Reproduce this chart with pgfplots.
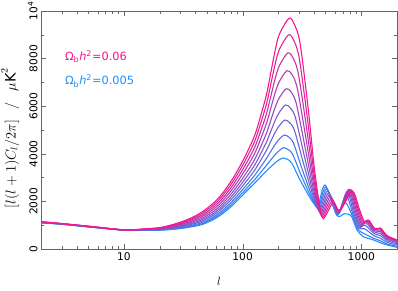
\documentclass[border=0pt]{standalone}
\usepackage{pgfplots}
\pgfplotsset{compat=1.18}
\usepackage{fontspec}
\setmainfont{DejaVu Sans}
\definecolor{bluec}{RGB}{30,144,255}
\definecolor{pinkc}{RGB}{250,20,140}
\colorlet{c0}{bluec}
\colorlet{c1}{pinkc!11!bluec}
\colorlet{c2}{pinkc!22!bluec}
\colorlet{c3}{pinkc!33!bluec}
\colorlet{c4}{pinkc!44!bluec}
\colorlet{c5}{pinkc!56!bluec}
\colorlet{c6}{pinkc!67!bluec}
\colorlet{c7}{pinkc!78!bluec}
\colorlet{c8}{pinkc!89!bluec}
\colorlet{c9}{pinkc}
\begin{document}
\begin{tikzpicture}
\path[use as bounding box] (0,0) rectangle (398bp,291bp);
\begin{axis}[
  at={(41bp,42bp)}, anchor=south west,
  width=356bp, height=238bp, scale only axis,
  xmode=log, xmin=2, xmax=2000, ymin=0, ymax=10000,
  scaled y ticks=false,
  xtick={10,100,1000}, xticklabels={10,100,1000},
  minor xtick={3,4,5,6,7,8,9,20,30,40,50,60,70,80,90,200,300,400,500,600,700,800,900},
  ytick={0,2000,4000,6000,8000,10000},
  yticklabels={0,2000,4000,6000,8000,10\textsuperscript{4}},
  minor ytick={1000,3000,5000,7000,9000},
  tick align=inside, major tick length=5bp, minor tick length=3bp,
  axis line style={black!60}, tick style={black!60},
  /pgf/number format/assume math mode=true,
  ticklabel style={font=\fontsize{10.7}{12}\selectfont},
  yticklabel style={rotate=90, anchor=south},
  xlabel={$l$}, xlabel style={font=\fontsize{13}{15}\selectfont, yshift=-10bp},
  ylabel={$[l(l+1)C_l/2\pi]\hspace{11bp}/\hspace{11bp}\mu\mathrm{K}^2$},
  ylabel style={font=\fontsize{14.5}{16}\selectfont, yshift=2bp, xshift=-8bp},
  every axis plot/.append style={line width=1.1pt, smooth},
]
\addplot[c0] coordinates {(2,1100)(3,1040)(5,930)(10,790)(14,785)(20,790)(25,820)(30,860)(37,930)(45,1020)(55,1200)(65,1420)(80,1780)(95,2150)(110,2470)(127,2780)(145,3080)(160,3300)(175,3480)(190,3640)(205,3760)(218,3824)(240,3760)(260,3600)(305,2900)(360,2250)(400,1900)(432,1800)(495,2690)(620,1420)(720,1480)(820,1400)(920,800)(1040,520)(1270,380)(1450,260)(1650,170)(2000,70)};
\addplot[c1] coordinates {(2,1104)(3,1042)(5,932)(10,791)(14,789)(20,798)(25,834)(30,880)(37,958)(45,1058)(55,1249)(65,1479)(80,1858)(95,2247)(110,2589)(127,2927)(145,3275)(160,3537)(175,3777)(190,3991)(205,4146)(221,4256)(243.4,4170)(264.6,3968)(310.5,3115)(364.2,2341)(404.2,1907)(436.9,1742)(503.8,2608)(624.3,1442)(732.5,1950)(834.5,1433)(934.5,839)(1052.7,650)(1273,450)(1450,340)(1650,210)(2000,110)};
\addplot[c2] coordinates {(2,1108)(3,1045)(5,935)(10,792)(14,793)(20,808)(25,851)(30,904)(37,992)(45,1105)(55,1310)(65,1553)(80,1955)(95,2368)(110,2737)(127,3111)(145,3518)(160,3833)(175,4147)(190,4429)(205,4628)(224,4790)(246.8,4690)(269.4,4427)(316,3382)(368.5,2455)(408.6,1916)(441.8,1685)(512.7,2526)(628.7,1464)(745.1,2250)(849.2,1467)(949.4,878)(1065.5,850)(1277,560)(1450,450)(1650,280)(2000,170)};
\addplot[c3] coordinates {(2,1114)(3,1048)(5,938)(10,794)(14,799)(20,820)(25,871)(30,933)(37,1033)(45,1161)(55,1382)(65,1640)(80,2070)(95,2510)(110,2912)(127,3327)(145,3804)(160,4181)(175,4583)(190,4944)(205,5194)(227,5420)(250.2,5300)(274.2,4966)(321.7,3697)(372.9,2589)(412.9,1927)(446.8,1627)(521.8,2443)(633.1,1487)(757.9,2400)(864.2,1500)(964.5,917)(1078.6,1000)(1280,650)(1450,560)(1650,350)(2000,220)};
\addplot[c4] coordinates {(2,1119)(3,1051)(5,941)(10,796)(14,804)(20,832)(25,892)(30,962)(37,1074)(45,1217)(55,1453)(65,1726)(80,2184)(95,2653)(110,3086)(127,3544)(145,4089)(160,4529)(175,5018)(190,5458)(205,5760)(230,6050)(253.7,5915)(279.1,5505)(327.5,4011)(377.2,2723)(417.3,1938)(451.9,1569)(531.1,2361)(637.5,1509)(771,2470)(879.4,1533)(979.7,956)(1091.7,1100)(1283,720)(1450,650)(1650,410)(2000,270)};
\addplot[c5] coordinates {(2,1125)(3,1055)(5,945)(10,797)(14,810)(20,844)(25,914)(30,993)(37,1118)(45,1277)(55,1531)(65,1820)(80,2309)(95,2807)(110,3275)(127,3778)(145,4399)(160,4906)(175,5491)(190,6016)(205,6373)(233,6735)(257.3,6585)(284.1,6090)(333.4,4352)(381.7,2868)(421.8,1949)(457,1511)(540.6,2279)(641.9,1531)(784.4,2500)(895.1,1567)(995.3,994)(1105.1,1150)(1286,770)(1450,730)(1650,460)(2000,310)};
\addplot[c6] coordinates {(2,1131)(3,1059)(5,949)(10,799)(14,816)(20,859)(25,938)(30,1028)(37,1167)(45,1344)(55,1617)(65,1925)(80,2447)(95,2979)(110,3485)(127,4038)(145,4743)(160,5325)(175,6016)(190,6637)(205,7056)(236,7491)(260.9,7325)(289.2,6740)(339.4,4732)(386.2,3029)(426.2,1962)(462.2,1453)(550.2,2197)(646.4,1553)(798,2500)(910.9,1600)(1011.2,1033)(1118.6,1190)(1290,810)(1450,790)(1650,500)(2000,340)};
\addplot[c7] coordinates {(2,1137)(3,1062)(5,952)(10,801)(14,822)(20,872)(25,962)(30,1062)(37,1215)(45,1409)(55,1702)(65,2027)(80,2581)(95,3146)(110,3691)(127,4293)(145,5080)(160,5734)(175,6528)(190,7243)(205,7722)(239.5,8235)(264.5,8050)(294.4,7375)(345.5,5102)(390.8,3186)(430.8,1975)(467.4,1396)(560,2114)(650.9,1576)(811.7,2490)(927,1633)(1027.3,1072)(1132.2,1210)(1293,830)(1450,840)(1650,530)(2000,360)};
\addplot[c8] coordinates {(2,1144)(3,1066)(5,956)(10,803)(14,829)(20,887)(25,987)(30,1097)(37,1264)(45,1477)(55,1788)(65,2131)(80,2719)(95,3318)(110,3901)(127,4554)(145,5424)(160,6154)(175,7053)(190,7863)(205,8405)(242.7,8992)(268.2,8790)(299.7,8025)(351.7,5481)(395.4,3348)(435.4,1988)(472.7,1338)(570,2032)(655.4,1598)(825.8,2460)(943.4,1667)(1043.5,1111)(1146,1210)(1297,845)(1450,870)(1650,550)(2000,375)};
\addplot[c9] coordinates {(2,1150)(3,1070)(5,960)(10,805)(14,835)(20,900)(25,1010)(30,1130)(37,1310)(45,1540)(55,1870)(65,2230)(80,2850)(95,3480)(110,4100)(127,4800)(145,5750)(160,6550)(175,7550)(190,8450)(205,9050)(246,9693)(272,9450)(305,8640)(358,5840)(400,3500)(440,2000)(478,1280)(580,1950)(660,1620)(840,2420)(960,1700)(1060,1150)(1160,1200)(1300,850)(1450,880)(1650,560)(2000,380)};
\node[anchor=base west, text=pinkc, font=\fontsize{11.4}{13}\selectfont, inner sep=0pt] at (rel axis cs:0.067,0.794) {Ω\textsubscript{b}\textit{h}\textsuperscript{2}=0.06};
\node[anchor=base west, text=bluec, font=\fontsize{11.4}{13}\selectfont, inner sep=0pt] at (rel axis cs:0.067,0.69) {Ω\textsubscript{b}\textit{h}\textsuperscript{2}=0.005};
\end{axis}
\end{tikzpicture}
\end{document}
